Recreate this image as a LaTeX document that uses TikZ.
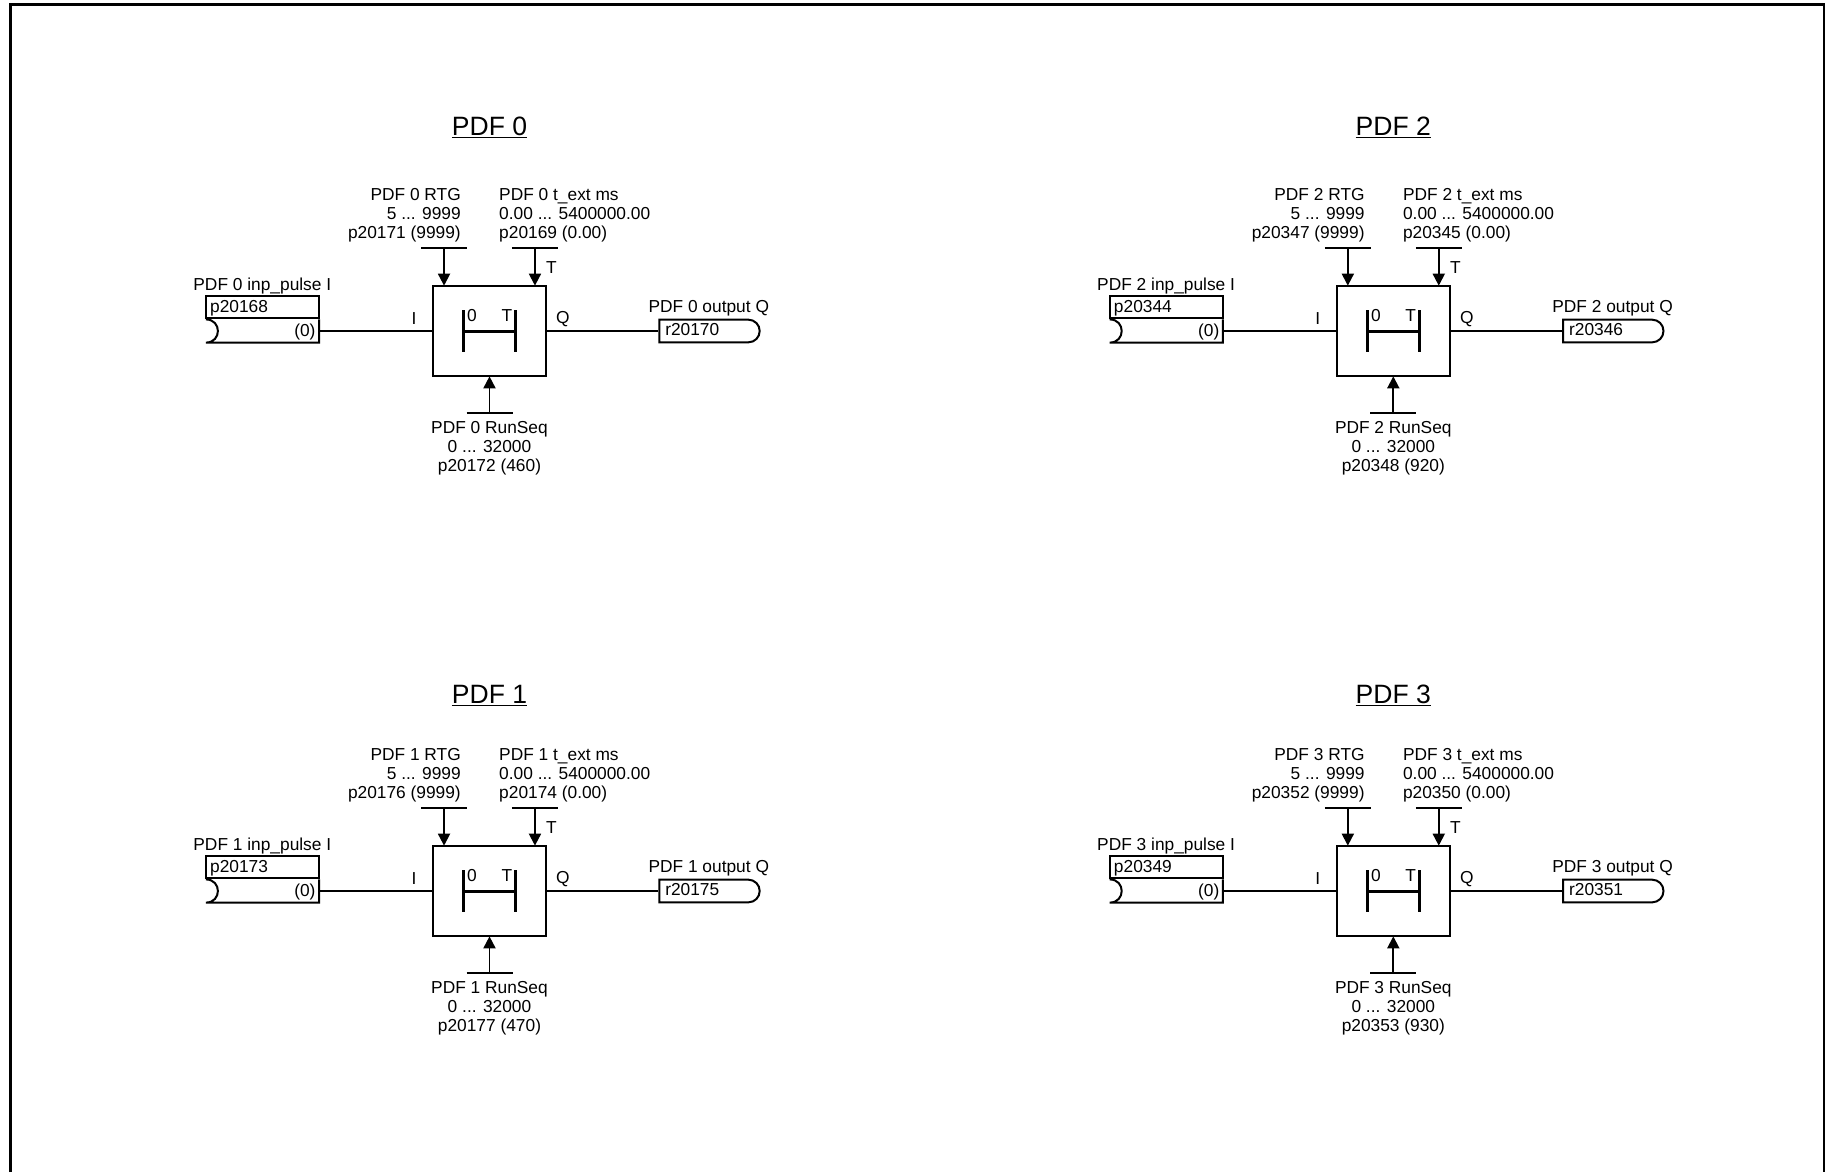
\documentclass[tikz,border=0pt]{standalone}
\usepackage{fontspec}
\setmainfont{Liberation Sans}
\usepackage{tikz}
\usetikzlibrary{arrows.meta, positioning, shapes.misc}

\begin{document}
\begin{tikzpicture}[
  x=0.75pt, y=-0.75pt,
  font=\fontsize{13}{14.25}\selectfont,
  lbl/.style={inner sep=0pt, align=center},
  heading/.style={inner sep=0pt, font=\fontsize{19.9}{22}\selectfont},
  blockbox/.style={draw, line width=1.5pt, outer sep=0pt, minimum width=85.2pt, minimum height=68pt},
  parbox/.style={draw, line width=1.5pt, minimum height=16.5pt, inner xsep=3pt, inner ysep=0pt, text depth=1pt, text width=78.5pt, align=left},
  invbox/.style={minimum height=17pt, inner xsep=2.5pt, inner ysep=0pt, text depth=1pt, text width=79.5pt, align=right},
  outbox/.style={draw, line width=1.5pt, rounded rectangle, rounded rectangle west arc=none, minimum height=17pt, inner xsep=4.5pt, inner ysep=0pt, text depth=2pt, text width=64.25pt, align=left},
  wire/.style={line width=1.4pt},
  bar/.style={line width=1.4pt},
  arr/.style={-{Triangle[length=9pt, width=9pt]}, line width=1.4pt},
  hold/.style={{Bar[width=31pt, line width=2.25pt]}-{Bar[width=31pt, line width=2.25pt]}, line width=2.25pt}
]
\useasboundingbox (0,0) rectangle (1825,1172);
\draw[line width=2.25pt] (10.5,1172) |- (1824,4.5) -- (1824,1172);

\node[blockbox] (box0) at (489.5,331) {};
\node[heading, above=110.2pt of box0] (title0) {\underline{PDF 0}};
\coordinate (hl0) at ([xshift=-20.6pt]box0.center);
\coordinate (hr0) at ([xshift=20.6pt]box0.center);
\draw[hold] (hl0) -- (hr0);
\node[lbl] (zero0) at ([xshift=-13.1pt, yshift=11.25pt]box0.center) {0};
\node[lbl] (tee0) at ([xshift=13.1pt, yshift=11.25pt]box0.center) {T};
\coordinate (rtg0) at ([xshift=-34.1pt, yshift=28pt]box0.north);
\coordinate (ext0) at ([xshift=34.1pt, yshift=28pt]box0.north);
\coordinate[below=27.4pt of box0.south] (seq0);
\draw[arr] (rtg0) -- (rtg0 |- box0.north);
\draw[arr] (ext0) -- (ext0 |- box0.north);
\draw[arr] (seq0) -- (box0.south);
\draw[bar] ([xshift=-17.25pt]rtg0) -- ([xshift=17.25pt]rtg0);
\draw[bar] ([xshift=-17.25pt]ext0) -- ([xshift=17.25pt]ext0);
\draw[bar] ([xshift=-17.25pt]seq0) -- ([xshift=17.25pt]seq0);
\node[lbl, align=right, above left=4.8pt and -12.75pt of rtg0] (rtglbl0) {PDF 0 RTG\\5 ... 9999\\p20171 (9999)};
\node[lbl, align=left, above right=4.8pt and -27pt of ext0] (extlbl0) {PDF 0 t\_ext ms\\0.00 ... 5400000.00\\p20169 (0.00)};
\node[lbl, below=6.2pt of seq0] (seqlbl0) {PDF 0 RunSeq\\0 ... 32000\\p20172 (460)};
\node[lbl] (tlbl0) at ([xshift=12.4pt, yshift=-14.25pt]ext0) {T};
\node[invbox, left=85.2pt of box0] (inv0) {(0)};
\node[parbox, above=0pt of inv0] (par0) {p20168};
\node[lbl, above right=0.5pt and -9pt of par0.north west] (inlbl0) {PDF 0 inp\_pulse I};
\draw[wire, line width=1.5pt] (inv0.north west) .. controls ([xshift=12pt]inv0.north west) and ([xshift=12pt]inv0.south west) .. (inv0.south west) -- (inv0.south east) -- (inv0.north east);
\node[outbox, right=84pt of box0] (out0) {r20170};
\node[lbl, above right=1.5pt and -7.5pt of out0.north west] (outlbl0) {PDF 0 output Q};
\draw[wire] (inv0) -- (box0);
\draw[wire] (box0) -- (out0.west);
\node[lbl] (ilbl0) at ([xshift=-14pt, yshift=9pt]box0.west) {I};
\node[lbl] (qlbl0) at ([xshift=12.5pt, yshift=9pt]box0.east) {Q};

\node[blockbox] (box1) at (489.5,891) {};
\node[heading, above=104.5pt of box1] (title1) {\underline{PDF 1}};
\coordinate (hl1) at ([xshift=-20.6pt]box1.center);
\coordinate (hr1) at ([xshift=20.6pt]box1.center);
\draw[hold] (hl1) -- (hr1);
\node[lbl] (zero1) at ([xshift=-13.1pt, yshift=11.25pt]box1.center) {0};
\node[lbl] (tee1) at ([xshift=13.1pt, yshift=11.25pt]box1.center) {T};
\coordinate (rtg1) at ([xshift=-34.1pt, yshift=28pt]box1.north);
\coordinate (ext1) at ([xshift=34.1pt, yshift=28pt]box1.north);
\coordinate[below=27.4pt of box1.south] (seq1);
\draw[arr] (rtg1) -- (rtg1 |- box1.north);
\draw[arr] (ext1) -- (ext1 |- box1.north);
\draw[arr] (seq1) -- (box1.south);
\draw[bar] ([xshift=-17.25pt]rtg1) -- ([xshift=17.25pt]rtg1);
\draw[bar] ([xshift=-17.25pt]ext1) -- ([xshift=17.25pt]ext1);
\draw[bar] ([xshift=-17.25pt]seq1) -- ([xshift=17.25pt]seq1);
\node[lbl, align=right, above left=4.8pt and -12.75pt of rtg1] (rtglbl1) {PDF 1 RTG\\5 ... 9999\\p20176 (9999)};
\node[lbl, align=left, above right=4.8pt and -27pt of ext1] (extlbl1) {PDF 1 t\_ext ms\\0.00 ... 5400000.00\\p20174 (0.00)};
\node[lbl, below=6.2pt of seq1] (seqlbl1) {PDF 1 RunSeq\\0 ... 32000\\p20177 (470)};
\node[lbl] (tlbl1) at ([xshift=12.4pt, yshift=-14.25pt]ext1) {T};
\node[invbox, left=85.2pt of box1] (inv1) {(0)};
\node[parbox, above=0pt of inv1] (par1) {p20173};
\node[lbl, above right=0.5pt and -9pt of par1.north west] (inlbl1) {PDF 1 inp\_pulse I};
\draw[wire, line width=1.5pt] (inv1.north west) .. controls ([xshift=12pt]inv1.north west) and ([xshift=12pt]inv1.south west) .. (inv1.south west) -- (inv1.south east) -- (inv1.north east);
\node[outbox, right=84pt of box1] (out1) {r20175};
\node[lbl, above right=1.5pt and -7.5pt of out1.north west] (outlbl1) {PDF 1 output Q};
\draw[wire] (inv1) -- (box1);
\draw[wire] (box1) -- (out1.west);
\node[lbl] (ilbl1) at ([xshift=-14pt, yshift=9pt]box1.west) {I};
\node[lbl] (qlbl1) at ([xshift=12.5pt, yshift=9pt]box1.east) {Q};

\node[blockbox] (box2) at (1393.3,331) {};
\node[heading, above=110.2pt of box2] (title2) {\underline{PDF 2}};
\coordinate (hl2) at ([xshift=-20.6pt]box2.center);
\coordinate (hr2) at ([xshift=20.6pt]box2.center);
\draw[hold] (hl2) -- (hr2);
\node[lbl] (zero2) at ([xshift=-13.1pt, yshift=11.25pt]box2.center) {0};
\node[lbl] (tee2) at ([xshift=13.1pt, yshift=11.25pt]box2.center) {T};
\coordinate (rtg2) at ([xshift=-34.1pt, yshift=28pt]box2.north);
\coordinate (ext2) at ([xshift=34.1pt, yshift=28pt]box2.north);
\coordinate[below=27.4pt of box2.south] (seq2);
\draw[arr] (rtg2) -- (rtg2 |- box2.north);
\draw[arr] (ext2) -- (ext2 |- box2.north);
\draw[arr] (seq2) -- (box2.south);
\draw[bar] ([xshift=-17.25pt]rtg2) -- ([xshift=17.25pt]rtg2);
\draw[bar] ([xshift=-17.25pt]ext2) -- ([xshift=17.25pt]ext2);
\draw[bar] ([xshift=-17.25pt]seq2) -- ([xshift=17.25pt]seq2);
\node[lbl, align=right, above left=4.8pt and -12.75pt of rtg2] (rtglbl2) {PDF 2 RTG\\5 ... 9999\\p20347 (9999)};
\node[lbl, align=left, above right=4.8pt and -27pt of ext2] (extlbl2) {PDF 2 t\_ext ms\\0.00 ... 5400000.00\\p20345 (0.00)};
\node[lbl, below=6.2pt of seq2] (seqlbl2) {PDF 2 RunSeq\\0 ... 32000\\p20348 (920)};
\node[lbl] (tlbl2) at ([xshift=12.4pt, yshift=-14.25pt]ext2) {T};
\node[invbox, left=85.2pt of box2] (inv2) {(0)};
\node[parbox, above=0pt of inv2] (par2) {p20344};
\node[lbl, above right=0.5pt and -9pt of par2.north west] (inlbl2) {PDF 2 inp\_pulse I};
\draw[wire, line width=1.5pt] (inv2.north west) .. controls ([xshift=12pt]inv2.north west) and ([xshift=12pt]inv2.south west) .. (inv2.south west) -- (inv2.south east) -- (inv2.north east);
\node[outbox, right=84pt of box2] (out2) {r20346};
\node[lbl, above right=1.5pt and -7.5pt of out2.north west] (outlbl2) {PDF 2 output Q};
\draw[wire] (inv2) -- (box2);
\draw[wire] (box2) -- (out2.west);
\node[lbl] (ilbl2) at ([xshift=-14pt, yshift=9pt]box2.west) {I};
\node[lbl] (qlbl2) at ([xshift=12.5pt, yshift=9pt]box2.east) {Q};

\node[blockbox] (box3) at (1393.3,891) {};
\node[heading, above=104.5pt of box3] (title3) {\underline{PDF 3}};
\coordinate (hl3) at ([xshift=-20.6pt]box3.center);
\coordinate (hr3) at ([xshift=20.6pt]box3.center);
\draw[hold] (hl3) -- (hr3);
\node[lbl] (zero3) at ([xshift=-13.1pt, yshift=11.25pt]box3.center) {0};
\node[lbl] (tee3) at ([xshift=13.1pt, yshift=11.25pt]box3.center) {T};
\coordinate (rtg3) at ([xshift=-34.1pt, yshift=28pt]box3.north);
\coordinate (ext3) at ([xshift=34.1pt, yshift=28pt]box3.north);
\coordinate[below=27.4pt of box3.south] (seq3);
\draw[arr] (rtg3) -- (rtg3 |- box3.north);
\draw[arr] (ext3) -- (ext3 |- box3.north);
\draw[arr] (seq3) -- (box3.south);
\draw[bar] ([xshift=-17.25pt]rtg3) -- ([xshift=17.25pt]rtg3);
\draw[bar] ([xshift=-17.25pt]ext3) -- ([xshift=17.25pt]ext3);
\draw[bar] ([xshift=-17.25pt]seq3) -- ([xshift=17.25pt]seq3);
\node[lbl, align=right, above left=4.8pt and -12.75pt of rtg3] (rtglbl3) {PDF 3 RTG\\5 ... 9999\\p20352 (9999)};
\node[lbl, align=left, above right=4.8pt and -27pt of ext3] (extlbl3) {PDF 3 t\_ext ms\\0.00 ... 5400000.00\\p20350 (0.00)};
\node[lbl, below=6.2pt of seq3] (seqlbl3) {PDF 3 RunSeq\\0 ... 32000\\p20353 (930)};
\node[lbl] (tlbl3) at ([xshift=12.4pt, yshift=-14.25pt]ext3) {T};
\node[invbox, left=85.2pt of box3] (inv3) {(0)};
\node[parbox, above=0pt of inv3] (par3) {p20349};
\node[lbl, above right=0.5pt and -9pt of par3.north west] (inlbl3) {PDF 3 inp\_pulse I};
\draw[wire, line width=1.5pt] (inv3.north west) .. controls ([xshift=12pt]inv3.north west) and ([xshift=12pt]inv3.south west) .. (inv3.south west) -- (inv3.south east) -- (inv3.north east);
\node[outbox, right=84pt of box3] (out3) {r20351};
\node[lbl, above right=1.5pt and -7.5pt of out3.north west] (outlbl3) {PDF 3 output Q};
\draw[wire] (inv3) -- (box3);
\draw[wire] (box3) -- (out3.west);
\node[lbl] (ilbl3) at ([xshift=-14pt, yshift=9pt]box3.west) {I};
\node[lbl] (qlbl3) at ([xshift=12.5pt, yshift=9pt]box3.east) {Q};
\end{tikzpicture}
\end{document}
